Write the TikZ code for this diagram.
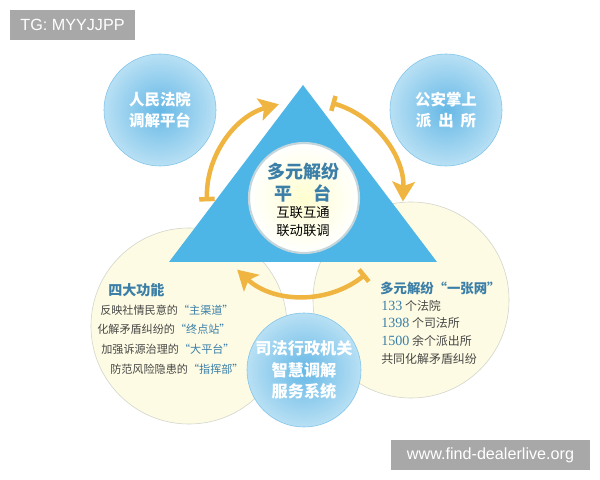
\documentclass[tikz,border=0pt]{standalone}
\usepackage{fontspec}
\newfontfamily\cjk{Noto Sans CJK SC}
\newfontfamily\numfont{Liberation Serif}
\newfontfamily\tagfont{Liberation Sans}
\usetikzlibrary{arrows.meta,positioning}

\definecolor{skyblue}{HTML}{4DB6E6}
\definecolor{ballblue}{HTML}{66B8E6}
\definecolor{balledge}{HTML}{B8E0F4}
\definecolor{cream}{HTML}{FDFBE3}
\definecolor{creamedge}{HTML}{D0D4CA}
\definecolor{gold}{HTML}{EFB540}
\definecolor{titleblue}{HTML}{3B7FA8}
\definecolor{tagfill}{HTML}{A8A8A8}

\begin{document}
\begin{tikzpicture}[x=0.025cm, y=0.025cm,
  ball/.style={circle, draw=ballblue!70!balledge, inner color=ballblue, outer color=balledge, text=white, font=\cjk\bfseries\fontsize{11.5}{15}\selectfont, align=center, inner sep=0pt, minimum size=2.8cm},
  halo/.style={circle, draw=creamedge, fill=cream, minimum size=4.9cm, inner sep=0pt},
  line/.style={anchor=west, inner sep=0pt, font=\cjk\fontsize{7.9}{10}\selectfont, text=black!72},
  head/.style={anchor=west, inner sep=0pt, font=\cjk\bfseries\fontsize{10}{12}\selectfont, text=titleblue},
  arr/.style={{Bar[width=11pt]}-{Stealth[length=14pt,width=16pt,inset=3pt]}, line width=3.2pt, draw=gold},
  tag/.style={fill=tagfill, text=white, font=\tagfont\fontsize{11.5}{12}\selectfont, inner sep=0pt, minimum height=0.75cm}]
  \fill[white] (0,0) rectangle (600,480);
  \useasboundingbox (0,0) rectangle (600,480);
  % background circles
  \node[halo] (funcs) at (189,154) {};
  \node[halo] (net) at (411,180) {};
  % platform triangle
  \coordinate (apex) at (303,395);
  \coordinate (baseL) at (169,218);
  \coordinate (baseR) at (437,218);
  \fill[skyblue] (apex) -- (baseL) -- (baseR) -- cycle;
  \node[circle, minimum size=2.75cm, draw=skyblue!40!gray!40, line width=1.5pt, inner color=cream!60!yellow!40!white, outer color=white] (hub) at (304,282) {};
  \node[font=\cjk\bfseries\fontsize{12.8}{14}\selectfont, text=titleblue] (hubtitle) at (303,308) {多元解纷};
  \node[font=\cjk\bfseries\fontsize{12.8}{14}\selectfont, text=titleblue] (hubsub) at (303,287) {平\hspace{1.2em}台};
  \node[font=\cjk\fontsize{9.5}{11}\selectfont] (hubl1) at (303,267) {互联互通};
  \node[font=\cjk\fontsize{9.5}{11}\selectfont] (hubl2) at (303,249) {联动联调};
  % blue balls
  \node[ball, font=\cjk\bfseries\fontsize{11}{15}\selectfont] (court) at (160,370) {人民法院\\调解平台};
  \node[ball, font=\cjk\bfseries\fontsize{11}{15}\selectfont] (police) at (446,370) {公安掌上\\派\hspace{0.45em}出\hspace{0.45em}所};
  \node[ball, minimum size=2.85cm] (justice) at (304,110) {司法行政机关\\智慧调解\\服务系统};
  % four functions
  \node[head] (fhead) at (108,190) {四大功能};
  \node[line] (f1) at (100,170) {反映社情民意的{\color{titleblue}“主渠道”}};
  \node[line] (f2) at (97,151) {化解矛盾纠纷的{\color{titleblue}“终点站”}};
  \node[line] (f3) at (101,131) {加强诉源治理的{\color{titleblue}“大平台”}};
  \node[line] (f4) at (110,111) {防范风险隐患的{\color{titleblue}“指挥部”}};
  % one network
  \node[head, font=\cjk\bfseries\fontsize{9.5}{12}\selectfont] (nhead) at (380,192) {多元解纷“一张网”};
  \node[line, font=\cjk\fontsize{8.5}{10}\selectfont] (n1) at (381,174) {{\numfont\fontsize{10}{10}\selectfont\color{titleblue}133} 个法院};
  \node[line, font=\cjk\fontsize{8.5}{10}\selectfont] (n2) at (381,157) {{\numfont\fontsize{10}{10}\selectfont\color{titleblue}1398} 个司法所};
  \node[line, font=\cjk\fontsize{8.5}{10}\selectfont] (n3) at (381,139) {{\numfont\fontsize{10}{10}\selectfont\color{titleblue}1500} 余个派出所};
  \node[line, font=\cjk\fontsize{8.5}{10}\selectfont] (n4) at (381,121) {共同化解矛盾纠纷};
  % cycle arrows
  \draw[arr] ([shift={(182:97)}]hub.center) arc[start angle=182, end angle=105, radius=97];
  \draw[arr] ([shift={(74:99)}]hub.center) arc[start angle=74, end angle=-2, radius=99];
  \draw[arr] ([shift={(-51:98)}]hub.center) arc[start angle=-51, end angle=-133, radius=98];
  % tags
  \node[tag, minimum width=3.125cm] (tg) at (72.5,455) {TG: MYYJJPP};
  \node[tag, minimum width=4.975cm] (site) at (490.5,25) {www.find-dealerlive.org};
\end{tikzpicture}
\end{document}
